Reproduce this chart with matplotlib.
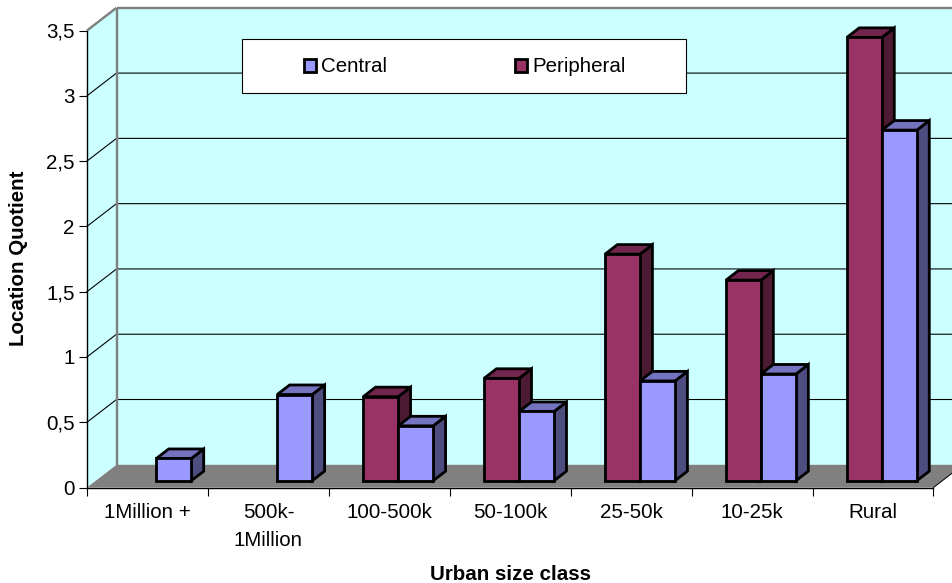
import matplotlib
matplotlib.use("Agg")
import matplotlib.pyplot as plt
from matplotlib.patches import Polygon, Rectangle, Patch

categories = ["1Million +", "500k-\n1Million", "100-500k", "50-100k", "25-50k", "10-25k", "Rural"]
central = [0.17, 0.66, 0.42, 0.53, 0.764, 0.817, 2.685]
peripheral = [None, None, 0.643, 0.784, 1.735, 1.536, 3.395]
y_ticks = [0, 0.5, 1, 1.5, 2, 2.5, 3, 3.5]
y_labels = ["0", "0,5", "1", "1,5", "2", "2,5", "3", "3,5"]

W, H = 952, 583
plt.rcParams["font.family"] = ["Liberation Sans", "DejaVu Sans"]
fig = plt.figure(figsize=(W / 100, H / 100), dpi=100, facecolor="white")
L, R, T, B = 87.0, 933.5, 30.5, 487.5
ax = fig.add_axes([L / W, 1 - B / H, (R - L) / W, (B - T) / H])
ax.set_xlim(0, 7)
ax.set_ylim(0, 3.5)
ax.patch.set_visible(False)

DX = 29.5 * 7 / (R - L)
DY = 22.7 * 3.5 / (B - T)
BW = 35 * 7 / (R - L)
F0, F1 = 0.30, 0.72
GREY = "#808080"
px = 0.72
FS = 20.5 * px


def poly(pts, fc, ec="none", lw=0, z=1):
    ax.add_patch(Polygon(pts, closed=True, fc=fc, ec=ec, lw=lw, zorder=z,
                         clip_on=False, joinstyle="miter"))


# walls and floor
poly([(0, 0), (DX, DY), (DX, 3.5 + DY), (0, 3.5)], "#CCFFFF")
poly([(DX, DY), (7 + DX, DY), (7 + DX, 3.5 + DY), (DX, 3.5 + DY)], "#CCFFFF")
poly([(0, 0), (DX, DY), (7 + DX, DY), (7, 0)], GREY)

# gridlines
for v in y_ticks[1:-1]:
    ax.plot([0, DX, 7 + DX], [v, v + DY, v + DY], color="black", lw=1.1 * px,
            zorder=2, clip_on=False)
for xs, ys in [([0, DX], [3.5, 3.5 + DY]),
               ([DX, 7 + DX], [3.5 + DY, 3.5 + DY]),
               ([DX, DX], [DY, 3.5 + DY])]:
    ax.plot(xs, ys, color=GREY, lw=2.4 * px, zorder=2.5, clip_on=False,
            solid_capstyle="butt")
ax.plot([7, 7 + DX], [0, DY], color="black", lw=1.0 * px, zorder=2.5, clip_on=False)


def bar3d(x0, v, front, top, side):
    x1 = x0 + BW
    ox0, oy0 = F0 * DX, F0 * DY
    ox1, oy1 = F1 * DX, F1 * DY
    elw = 2.8 * px
    poly([(x1 + ox0, oy0), (x1 + ox1, oy1), (x1 + ox1, v + oy1), (x1 + ox0, v + oy0)],
         side, "black", elw, 5)
    poly([(x0 + ox0, v + oy0), (x0 + ox1, v + oy1), (x1 + ox1, v + oy1), (x1 + ox0, v + oy0)],
         top, "black", elw, 5)
    poly([(x0 + ox0, oy0), (x1 + ox0, oy0), (x1 + ox0, v + oy0), (x0 + ox0, v + oy0)],
         front, "black", elw, 5)


for i in range(len(categories)):
    c = i + 0.5
    if peripheral[i] is not None:
        bar3d(c - BW, peripheral[i], "#993366", "#73264D", "#4D1A33")
    bar3d(c, central[i], "#9999FF", "#7373BF", "#4D4D80")

# axes
for s in ("top", "right"):
    ax.spines[s].set_visible(False)
for s in ("left", "bottom"):
    ax.spines[s].set_linewidth(1.4 * px)
    ax.spines[s].set_zorder(3)
ax.set_xticks(range(8))
ax.set_xticklabels([])
ax.set_xticks([i + 0.5 for i in range(7)], categories, minor=True)
ax.tick_params(axis="x", which="major", length=8 * px, width=1.1 * px)
ax.tick_params(axis="x", which="minor", length=0, pad=15.5 * px, labelsize=FS)
ax.set_yticks(y_ticks, y_labels)
ax.tick_params(axis="y", length=8 * px, width=1.1 * px, pad=4.5 * px, labelsize=FS)
for t in ax.get_xticklabels(minor=True):
    t.set_linespacing(1.58)

fig.text(19 / W, 1 - 258 / H, "Location Quotient", rotation=90, ha="center", va="center",
         fontsize=FS, fontweight="bold")
fig.text(510 / W, 1 - 574 / H, "Urban size class", ha="center", va="center",
         fontsize=FS, fontweight="bold")

# legend
fig.add_artist(Rectangle((242.5 / W, 1 - 93 / H), 443 / W, 54 / H, transform=fig.transFigure,
                         fc="white", ec="black", lw=1.1 * px, zorder=6))
handles = [Patch(fc="#9999FF", ec="black", lw=2.8 * px),
           Patch(fc="#993366", ec="black", lw=2.8 * px)]
leg = fig.legend(handles, ["Central", "Peripheral"], ncol=2, frameon=False,
                 loc="center left", bbox_to_anchor=(304 / W, 1 - 67 / H),
                 fontsize=FS, handlelength=0.6, handleheight=0.6,
                 handletextpad=0.25, columnspacing=6.2, borderpad=0, borderaxespad=0)
leg.set_zorder(7)

fig.savefig("out.png", dpi=100)
